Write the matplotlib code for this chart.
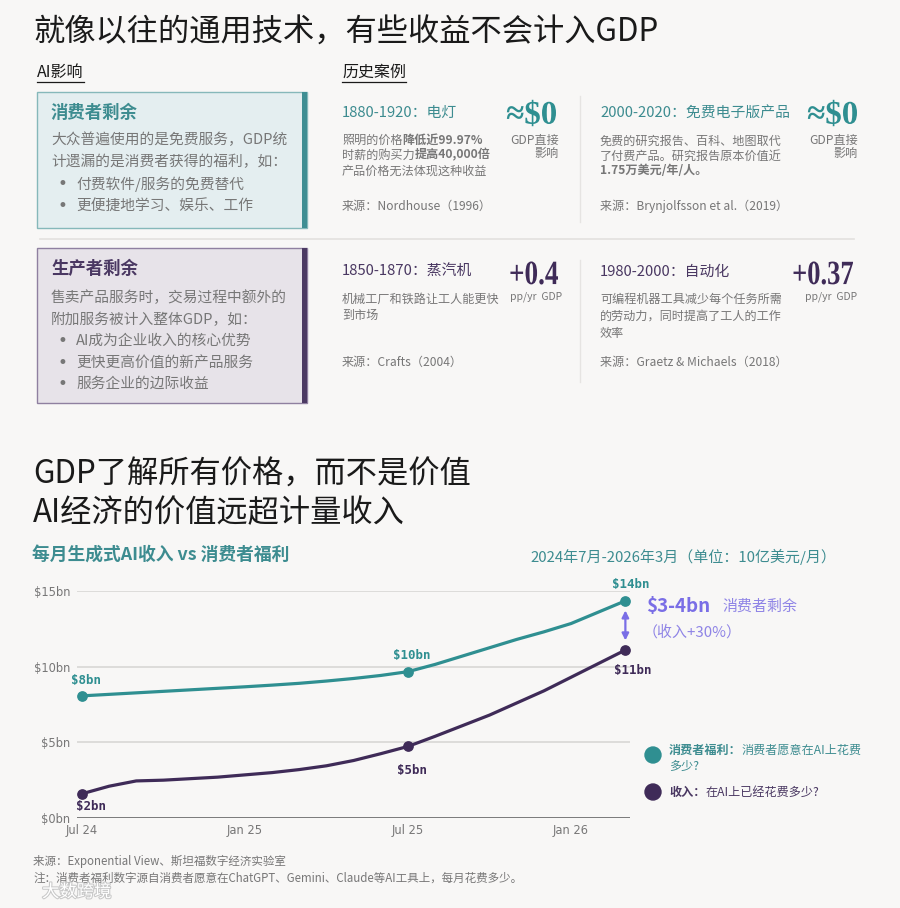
import numpy as np
import matplotlib
matplotlib.use("Agg")
import matplotlib.pyplot as plt
from matplotlib.patches import Rectangle, FancyArrowPatch, Circle, PathPatch
from matplotlib.textpath import TextPath
from matplotlib.font_manager import FontProperties
from matplotlib.transforms import Affine2D
import matplotlib.patheffects as pe

plt.rcParams["font.family"] = ["Noto Sans CJK SC", "DejaVu Sans"]

# ── DATA ─────────────────────────────────────────────────────────────────────
months = np.arange(21)                       # 0 = Jul 24 ... 20 = Mar 26
tick_pos = [0, 6, 12, 18]
tick_labels = ["Jul 24", "Jan 25", "Jul 25", "Jan 26"]

welfare = [8.07, 8.17, 8.27, 8.37, 8.47, 8.57, 8.67, 8.78, 8.9, 9.05, 9.22,
           9.42, 9.67, 10.15, 10.7, 11.25, 11.8, 12.3, 12.85, 13.6, 14.35]
revenue = [1.6, 2.1, 2.45, 2.5, 2.6, 2.7, 2.85, 3.0, 3.2, 3.45, 3.8,
           4.25, 4.73, 5.4, 6.1, 6.8, 7.6, 8.4, 9.3, 10.2, 11.1]

welfare_marks = [0, 12, 20]
welfare_marks_txt = ["$8bn", "$10bn", "$14bn"]
revenue_marks = [0, 12, 20]
revenue_marks_txt = ["$2bn", "$5bn", "$11bn"]

y_ticks = [0, 5, 10, 15]
y_tick_labels = ["$0bn", "$5bn", "$10bn", "$15bn"]

# ── COLOURS ──────────────────────────────────────────────────────────────────
BG = "#f8f7f6"
TEAL = "#2f8f91"
TEAL_T = "#3d8c90"
PURP = "#3f2b58"
PURP_T = "#4a3862"
ARROW = "#7a6ee6"
GRAY = "#777777"
DARK = "#1a1a1a"

fig = plt.figure(figsize=(9, 9.08), dpi=100, facecolor=BG)
ov = fig.add_axes([0, 0, 1, 1])
ov.set_xlim(0, 900)
ov.set_ylim(908, 0)
ov.axis("off")
ov.set_facecolor(BG)

renderer = fig.canvas.get_renderer()


def rich(x, y, parts, size, va="center"):
    """draw pieces of text one after another on a line"""
    for txt, weight, color in parts:
        t = ov.text(x, y, txt, fontsize=size, fontweight=weight, color=color,
                    ha="left", va=va)
        bb = t.get_window_extent(renderer=renderer)
        x += bb.width


def underline_text(x, y, txt, size):
    t = ov.text(x, y, txt, fontsize=size, color=DARK, ha="left", va="center")
    bb = t.get_window_extent(renderer=renderer)
    ov.plot([x, x + bb.width], [y + 10, y + 10], color=DARK, lw=0.9)


def big_num(x_right, y_mid, txt, px, color, sx=1.0):
    """serif headline number, right aligned, optionally squeezed"""
    tp = TextPath((0, 0), txt, size=px,
                  prop=FontProperties(family="Liberation Serif", weight="bold"))
    bb = tp.get_extents()
    tr = (Affine2D().translate(-bb.x1, -(bb.y0 + bb.y1) / 2)
          .scale(sx, -1).translate(x_right, y_mid))
    ov.add_patch(PathPatch(tr.transform_path(tp), facecolor=color,
                           edgecolor="none"))


# ── TITLES ───────────────────────────────────────────────────────────────────
ov.text(33, 33, "就像以往的通用技术，有些收益不会计入GDP", fontsize=22.5,
        color=DARK, va="center")
underline_text(37, 72, "AI影响", 11.5)
underline_text(342, 72, "历史案例", 11.5)

# ── LEFT BOXES ───────────────────────────────────────────────────────────────
ov.add_patch(Rectangle((37, 92), 270, 136, facecolor="#e4eef0",
                       edgecolor="#86b8ba", lw=1.0))
ov.add_patch(Rectangle((302, 92), 5, 136, facecolor="#3f8e93", lw=0))
ov.text(51, 113, "消费者剩余", fontsize=12.5, fontweight="bold", color=TEAL_T,
        va="center")
box1 = ["大众普遍使用的是免费服务，GDP统", "计遗漏的是消费者获得的福利，如："]
for i, line in enumerate(box1):
    ov.text(51, 140 + 22 * i, line, fontsize=10.6, color=GRAY, va="center")
for i, line in enumerate(["付费软件/服务的免费替代", "更便捷地学习、娱乐、工作"]):
    ov.text(57, 184 + 22 * i, "•", fontsize=12, color=GRAY, va="center",
            family="DejaVu Sans")
    ov.text(76, 184 + 22 * i, line, fontsize=10.6, color=GRAY, va="center")

ov.add_patch(Rectangle((37, 248), 270, 155, facecolor="#e7e3e9",
                       edgecolor="#8f80a0", lw=1.0))
ov.add_patch(Rectangle((302, 248), 5, 155, facecolor="#4c3a63", lw=0))
ov.text(51, 269, "生产者剩余", fontsize=12.5, fontweight="bold", color=PURP_T,
        va="center")
box2 = ["售卖产品服务时，交易过程中额外的", "附加服务被计入整体GDP，如："]
for i, line in enumerate(box2):
    ov.text(51, 298 + 21.5 * i, line, fontsize=10.6, color=GRAY, va="center")
for i, line in enumerate(["AI成为企业收入的核心优势", "更快更高价值的新产品服务",
                          "服务企业的边际收益"]):
    ov.text(57, 341 + 21.5 * i, "•", fontsize=12, color=GRAY, va="center",
            family="DejaVu Sans")
    ov.text(76, 341 + 21.5 * i, line, fontsize=10.6, color=GRAY, va="center")

# separators
ov.plot([40, 854], [239, 239], color="#e3e1df", lw=1.2)
ov.plot([580, 580], [96, 222], color="#e6e4e2", lw=1.0)
ov.plot([580, 580], [260, 382], color="#e6e4e2", lw=1.0)

# ── HISTORICAL CASES ─────────────────────────────────────────────────────────
BODY = 8.7
HEAD = 10.7

# case 1
ov.text(342, 113, "1880-1920：电灯", fontsize=HEAD, color=TEAL_T, va="center")
big_num(556, 113, "≈$0", 33, TEAL, sx=1.0)
ov.text(559, 140, "GDP直接", fontsize=8.7, color=GRAY, ha="right", va="center")
ov.text(559, 153, "影响", fontsize=8.7, color=GRAY, ha="right", va="center")
rich(342, 140, [("照明的价格", "normal", GRAY), ("降低近99.97%", "bold", GRAY)], BODY)
rich(342, 155, [("时薪的购买力", "normal", GRAY), ("提高40,000倍", "bold", GRAY)], BODY)
rich(342, 171, [("产品价格无法体现这种收益", "normal", GRAY)], BODY)
ov.text(342, 206, "来源：Nordhouse（1996）", fontsize=BODY, color=GRAY, va="center")

# case 2
ov.text(600, 113, "2000-2020：免费电子版产品", fontsize=HEAD, color=TEAL_T,
        va="center")
big_num(857, 113, "≈$0", 33, TEAL, sx=1.0)
ov.text(858, 140, "GDP直接", fontsize=8.7, color=GRAY, ha="right", va="center")
ov.text(858, 153, "影响", fontsize=8.7, color=GRAY, ha="right", va="center")
rich(600, 141, [("免费的研究报告、百科、地图取代", "normal", GRAY)], BODY)
rich(600, 156, [("了付费产品。研究报告原本价值近", "normal", GRAY)], BODY)
rich(600, 171, [("1.75万美元/年/人。", "bold", GRAY)], BODY)
ov.text(600, 206, "来源：Brynjolfsson et al.（2019）", fontsize=BODY, color=GRAY,
        va="center")

# case 3
ov.text(342, 272, "1850-1870：蒸汽机", fontsize=HEAD, color=PURP_T, va="center")
big_num(558, 273, "+0.4", 34, PURP, sx=0.8)
ov.text(562, 297, "pp/yr  GDP", fontsize=7.5, color=GRAY, ha="right", va="center")
rich(342, 299, [("机械工厂和铁路让工人能更快", "normal", GRAY)], BODY)
rich(342, 315, [("到市场", "normal", GRAY)], BODY)
ov.text(342, 362, "来源：Crafts（2004）", fontsize=BODY, color=GRAY, va="center")

# case 4
ov.text(600, 272, "1980-2000：自动化", fontsize=HEAD, color=PURP_T, va="center")
big_num(853, 273, "+0.37", 34, PURP, sx=0.78)
ov.text(857, 297, "pp/yr  GDP", fontsize=7.5, color=GRAY, ha="right", va="center")
rich(600, 299, [("可编程机器工具减少每个任务所需", "normal", GRAY)], BODY)
rich(600, 316, [("的劳动力，同时提高了工人的工作", "normal", GRAY)], BODY)
rich(600, 333, [("效率", "normal", GRAY)], BODY)
ov.text(600, 362, "来源：Graetz & Michaels（2018）", fontsize=BODY, color=GRAY,
        va="center")

# ── SECOND TITLE ─────────────────────────────────────────────────────────────
ov.text(33, 475, "GDP了解所有价格，而不是价值", fontsize=22.5, color=DARK,
        va="center")
ov.text(33, 513, "AI经济的价值远超计量收入", fontsize=22.5, color=DARK,
        va="center")
ov.text(32, 555, "每月生成式AI收入 vs 消费者福利", fontsize=12.8,
        fontweight="bold", color=TEAL_T, va="center")
ov.text(836, 557, "2024年7月-2026年3月（单位：10亿美元/月）", fontsize=10.8,
        color=TEAL_T, ha="right", va="center")

# ── CHART ────────────────────────────────────────────────────────────────────
x0_px, x1_px = 77, 630
y0_px, y1_px = 818, 591
ax = fig.add_axes([x0_px / 900, 1 - y0_px / 908, (x1_px - x0_px) / 900,
                   (y0_px - y1_px) / 908])
ax.set_facecolor("none")
ax.set_xlim(-0.18, 20.17)
ax.set_ylim(0, 15)
for s in ax.spines.values():
    s.set_visible(False)
for yv in y_ticks[1:]:
    ax.axhline(yv, color="#d6d4d2", lw=1.1, zorder=1)
ax.axhline(0, color="#707070", lw=1.3, zorder=1)
ax.set_yticks(y_ticks)
ax.set_yticklabels(y_tick_labels, fontsize=8.3, color=GRAY, family="DejaVu Sans")
ax.set_xticks(tick_pos)
ax.set_xticklabels(tick_labels, fontsize=8.3, color=GRAY, family="DejaVu Sans")
ax.tick_params(length=0, pad=4)
ax.tick_params(axis="y", pad=5)

ax.plot(months, welfare, color=TEAL, lw=2.3, zorder=3, solid_capstyle="round")
ax.plot(months, revenue, color=PURP, lw=2.3, zorder=3, solid_capstyle="round")
ax.scatter([months[i] for i in welfare_marks], [welfare[i] for i in welfare_marks],
           s=45, color=TEAL, zorder=4, clip_on=False)
ax.scatter([months[i] for i in revenue_marks], [revenue[i] for i in revenue_marks],
           s=45, color=PURP, zorder=4, clip_on=False)

MONO = "DejaVu Sans Mono"
# label offsets in pixels (dx, dy) from each marker
w_off = [(4, 15), (4, 16), (5, 16)]
r_off = [(9, -13), (4, -24), (7, -20)]
for i, txt, (dx, dy) in zip(welfare_marks, welfare_marks_txt, w_off):
    ax.annotate(txt, (months[i], welfare[i]), xytext=(dx * 0.72, dy * 0.72),
                textcoords="offset points", ha="center", va="center",
                fontsize=9, fontweight="bold", family=MONO, color=TEAL,
                annotation_clip=False)
for i, txt, (dx, dy) in zip(revenue_marks, revenue_marks_txt, r_off):
    ax.annotate(txt, (months[i], revenue[i]), xytext=(dx * 0.72, dy * 0.72),
                textcoords="offset points", ha="center", va="center",
                fontsize=9, fontweight="bold", family=MONO, color=PURP,
                annotation_clip=False)

# gap arrow
ax.add_patch(FancyArrowPatch((months[-1], welfare[-1] - 0.45),
                             (months[-1], revenue[-1] + 0.45),
                             arrowstyle="<|-|>", mutation_scale=10,
                             color=ARROW, lw=1.6, clip_on=False, zorder=5))

ov.text(646, 607, "$3-4bn", fontsize=13.5, fontweight="bold", color=ARROW,
        va="center")
ov.text(722, 607, "消费者剩余", fontsize=10.8, color="#8f84e6", va="center")
ov.text(643, 632, "（收入+30%）", fontsize=10.8, color="#8f84e6", va="center")

# legend
ov.add_patch(Circle((653, 755), 8, color=TEAL))
ov.add_patch(Circle((653, 792), 8, color=PURP))
rich(669, 750, [("消费者福利：", "bold", TEAL_T), ("消费者愿意在AI上花费", "normal", TEAL_T)], 8.7)
rich(669, 766, [("多少?", "normal", TEAL_T)], 8.7)
rich(669, 792, [("收入：", "bold", PURP_T), ("在AI上已经花费多少?", "normal", PURP_T)], 8.7)

# ── FOOTER ───────────────────────────────────────────────────────────────────
ov.text(33, 861, "来源：Exponential View、斯坦福数字经济实验室", fontsize=8.3,
        color=GRAY, va="center")
ov.text(33, 878, "注：消费者福利数字源自消费者愿意在ChatGPT、Gemini、Claude等AI工具上，每月花费多少。",
        fontsize=8.3, color=GRAY, va="center")
ov.text(42, 892, "大数跨境", fontsize=12.5, color="white", va="center",
        path_effects=[pe.withStroke(linewidth=1.5, foreground="#c8c8c8")])

fig.savefig("out.png", dpi=100, facecolor=BG)
